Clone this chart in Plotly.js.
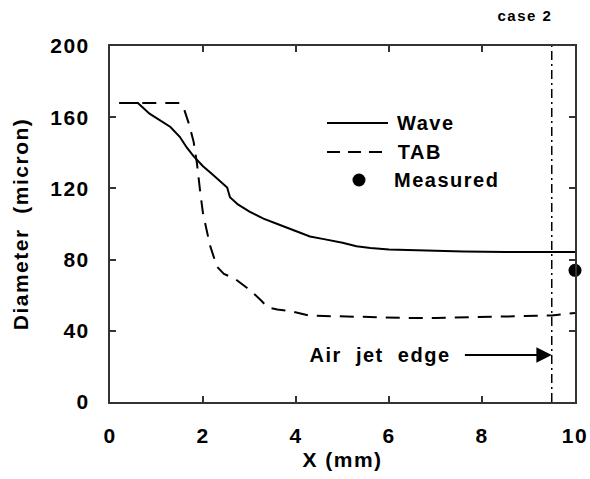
<!DOCTYPE html>
<html>
<head>
<meta charset="utf-8">
<script src="https://cdn.plot.ly/plotly-3.0.1.min.js"></script>
<style>
  html, body { margin: 0; padding: 0; background: #fff; }
  #chart { width: 590px; height: 479px; }
  .main-svg text { letter-spacing: 1.5px; }
</style>
</head>
<body>
<div id="chart"></div>
<script>
// ---- data ----
var waveX = [0.2, 0.6, 0.85, 1.1, 1.3, 1.5, 1.65, 1.8, 2.0, 2.2, 2.4, 2.52, 2.58, 2.75, 3.0, 3.3, 3.6, 4.0, 4.3, 4.6, 5.0, 5.3, 5.6, 6.0, 6.5, 7.0, 7.6, 8.5, 9.5, 10];
var waveY = [168, 168, 162, 158, 154.5, 149, 143, 138, 132.5, 128, 123.5, 120.5, 115, 111, 107, 103, 100, 96, 93, 91.5, 89.5, 87.5, 86.5, 85.7, 85.2, 84.8, 84.5, 84.3, 84.3, 84.3];

var tabX = [0.2, 1.5, 1.6, 1.7, 1.8, 1.87, 1.94, 2.0, 2.15, 2.3, 2.45, 2.7, 2.95, 3.05, 3.25, 3.4, 3.6, 3.9, 4.3, 5.0, 5.8, 6.5, 7.0, 8.0, 9.0, 9.5, 10];
var tabY = [168, 168, 164, 156, 146, 134, 118, 106, 88, 76, 72, 69, 64, 62, 57, 53, 52, 51, 48.5, 48, 47.5, 47.2, 47.2, 47.6, 48.2, 48.6, 50];

var measuredX = [10];
var measuredY = [74];

var airJetEdgeX = 9.5;
var seriesNames = ['Wave', 'TAB', 'Measured'];
var xTicks = [0, 2, 4, 6, 8, 10];
var yTicks = [0, 40, 80, 120, 160, 200];

// ---- layout helpers (pixel geometry of the plot area) ----
var M = {l: 110, r: 15, t: 46, b: 77};
var W = 590, H = 479;
var pw = W - M.l - M.r, ph = H - M.t - M.b;
function px(p) { return (p - M.l) / pw; }
function py(p) { return (M.t + ph - p) / ph; }

var FAM = 'Liberation Sans, Arial, sans-serif';
function font(size) { return {family: FAM, color: '#000', weight: 'bold', size: size}; }
var BLACK = '#000';
var AXIS = '#333';

var traces = [
  {x: waveX, y: waveY, type: 'scatter', mode: 'lines', name: seriesNames[0],
   line: {color: BLACK, width: 2}, showlegend: false},
  {x: tabX, y: tabY, type: 'scatter', mode: 'lines', name: seriesNames[1],
   line: {color: BLACK, width: 2, dash: '14px,9px'}, showlegend: false},
  {x: measuredX, y: measuredY, type: 'scatter', mode: 'markers', name: seriesNames[2],
   marker: {color: BLACK, size: 13}, cliponaxis: false, showlegend: false}
];

var legendRows = [123, 152, 180];
var shapes = [
  {type: 'line', xref: 'x', yref: 'paper', x0: airJetEdgeX, x1: airJetEdgeX, y0: 0, y1: 1,
   line: {color: BLACK, width: 1.5, dash: '9px,4px,2px,4px'}},
  {type: 'line', xref: 'paper', yref: 'paper', x0: px(327), x1: px(388), y0: py(legendRows[0]), y1: py(legendRows[0]),
   line: {color: BLACK, width: 2}},
  {type: 'line', xref: 'paper', yref: 'paper', x0: px(327), x1: px(388), y0: py(legendRows[1]), y1: py(legendRows[1]),
   line: {color: BLACK, width: 2, dash: '13px,8px'}},
  {type: 'circle', xref: 'paper', yref: 'paper', xsizemode: 'pixel', ysizemode: 'pixel',
   xanchor: px(359), yanchor: py(legendRows[2]), x0: -6.5, x1: 6.5, y0: -6.5, y1: 6.5,
   fillcolor: BLACK, line: {color: BLACK, width: 0}}
];

var annotations = [
  {xref: 'paper', yref: 'paper', x: px(398), y: py(legendRows[0]), xanchor: 'left', yanchor: 'middle',
   text: seriesNames[0], showarrow: false, font: font(20)},
  {xref: 'paper', yref: 'paper', x: px(398), y: py(legendRows[1]), xanchor: 'left', yanchor: 'middle',
   text: seriesNames[1], showarrow: false, font: font(20)},
  {xref: 'paper', yref: 'paper', x: px(398), y: py(legendRows[2]), xanchor: 'left', yanchor: 'middle',
   text: seriesNames[2], showarrow: false, font: font(20)},
  {xref: 'paper', yref: 'paper', x: px(525), y: py(15), xanchor: 'center', yanchor: 'middle',
   text: 'case 2', showarrow: false, font: font(15)},
  {xref: 'x', yref: 'y', x: 5.81, y: 26.4, xanchor: 'center', yanchor: 'middle',
   text: 'Air  jet  edge', showarrow: false, font: font(20)},
  {xref: 'x', yref: 'y', x: airJetEdgeX, y: 26.4, axref: 'x', ayref: 'y', ax: 7.6, ay: 26.4,
   text: '', showarrow: true, arrowhead: 2, arrowsize: 1.4, arrowwidth: 2.2, arrowcolor: BLACK, standoff: 0}
];

var layout = {
  width: W, height: H,
  margin: M,
  showlegend: false,
  xaxis: {
    range: [0, 10], tickvals: xTicks, ticktext: xTicks.map(String),
    ticks: 'inside', ticklen: 6, tickwidth: 2, tickcolor: AXIS,
    showline: true, linecolor: AXIS, linewidth: 2, mirror: 'ticks',
    showgrid: false, zeroline: false, automargin: false,
    tickfont: font(21), ticklabelstandoff: 14,
    title: {text: 'X (mm)', font: font(21), standoff: 6}
  },
  yaxis: {
    range: [0, 200], tickvals: yTicks, ticktext: yTicks.map(String),
    ticks: 'inside', ticklen: 6, tickwidth: 2, tickcolor: AXIS,
    showline: true, linecolor: AXIS, linewidth: 2, mirror: 'ticks',
    showgrid: false, zeroline: false, automargin: false,
    tickfont: font(21), ticklabelstandoff: 14,
    title: {text: 'Diameter  (micron)', font: font(21), standoff: 20}
  },
  shapes: shapes,
  annotations: annotations
};

Plotly.newPlot('chart', traces, layout, {displayModeBar: false});
</script>
</body>
</html>
